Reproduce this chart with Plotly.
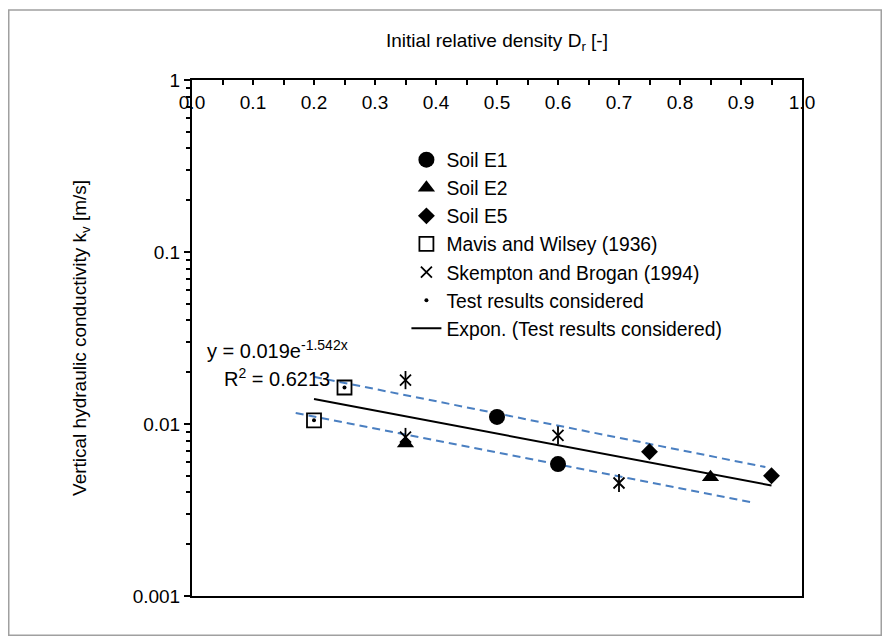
import plotly.graph_objects as go

# ---- data ----
e1_x = [0.5, 0.6]
e1_y = [0.0110, 0.00585]
e2_x = [0.35, 0.85]
e2_y = [0.0077, 0.0049]
e5_x = [0.75, 0.95]
e5_y = [0.0069, 0.0050]
mavis_x = [0.2, 0.25]
mavis_y = [0.0105, 0.0163]
skempton_x = [0.35, 0.35, 0.6, 0.7]
skempton_y = [0.0180, 0.0084, 0.0086, 0.00454]
considered_x = [0.2, 0.25, 0.35, 0.5, 0.6, 0.85, 0.75, 0.95]
considered_y = [0.0105, 0.0163, 0.0077, 0.0110, 0.00585, 0.0049, 0.0069, 0.0050]
trend_x = [0.2, 0.95]
trend_y = [0.01396, 0.00439]
upper_x = [0.2, 0.94]
upper_y = [0.0188, 0.00562]
lower_x = [0.17, 0.915]
lower_y = [0.0116, 0.00352]

x_ticks = [0.0, 0.1, 0.2, 0.3, 0.4, 0.5, 0.6, 0.7, 0.8, 0.9, 1.0]
x_ticktext = ["0.0", "0.1", "0.2", "0.3", "0.4", "0.5", "0.6", "0.7", "0.8", "0.9", "1.0"]
x_minor = [0.05, 0.15, 0.25, 0.35, 0.45, 0.55, 0.65, 0.75, 0.85, 0.95]
y_ticks = [0.001, 0.01, 0.1, 1]
y_ticktext = ["0.001", "0.01", "0.1", "1"]
y_minor = [m * 10 ** e for e in (-3, -2, -1) for m in range(2, 10)]

FONT = "Liberation Sans, Arial, sans-serif"
BLUE = "#4a7fc1"

fig = go.Figure()

# band lines (not in legend)
fig.add_trace(go.Scatter(x=upper_x, y=upper_y, mode="lines", showlegend=False,
                         line=dict(color=BLUE, width=2, dash="8px,5px")))
fig.add_trace(go.Scatter(x=lower_x, y=lower_y, mode="lines", showlegend=False,
                         line=dict(color=BLUE, width=2, dash="8px,5px")))

fig.add_trace(go.Scatter(x=e1_x, y=e1_y, mode="markers", name="Soil E1",
                         marker=dict(symbol="circle", size=16, color="black")))
fig.add_trace(go.Scatter(x=e2_x, y=e2_y, mode="markers", name="Soil E2",
                         marker=dict(symbol="triangle-up", size=15, color="black")))
fig.add_trace(go.Scatter(x=e5_x, y=e5_y, mode="markers", name="Soil E5",
                         marker=dict(symbol="diamond", size=13, color="black")))
fig.add_trace(go.Scatter(x=mavis_x, y=mavis_y, mode="markers", name="Mavis and Wilsey (1936)",
                         marker=dict(symbol="square-open", size=14, color="black",
                                     line=dict(width=1.8, color="black"))))
fig.add_trace(go.Scatter(x=skempton_x, y=skempton_y, mode="markers",
                         name="Skempton and Brogan (1994)",
                         marker=dict(symbol="x-thin-open", size=11, color="black",
                                     line=dict(width=1.8, color="black"))))
fig.add_trace(go.Scatter(x=skempton_x, y=skempton_y, mode="markers", showlegend=False,
                         marker=dict(symbol="line-ns-open", size=13, color="black",
                                     line=dict(width=1.8, color="black"))))
fig.add_trace(go.Scatter(x=considered_x, y=considered_y, mode="markers",
                         name="Test results considered",
                         marker=dict(symbol="circle", size=4, color="black")))
fig.add_trace(go.Scatter(x=trend_x, y=trend_y, mode="lines",
                         name="Expon. (Test results considered)",
                         line=dict(color="black", width=2)))

fig.update_xaxes(
    side="top", range=[0, 1], tickvals=x_ticks, ticktext=x_ticktext,
    ticks="inside", ticklen=5, tickwidth=1.5, tickcolor="black",
    minor=dict(tickvals=x_minor, ticks="inside", ticklen=5, tickwidth=1.5, tickcolor="black"),
    ticklabelposition="inside", ticklabelstandoff=12, ticklabeloverflow="allow",
    showline=True, linecolor="black", linewidth=2, mirror=True,
    showgrid=False, zeroline=False,
    tickfont=dict(size=19, color="black", family=FONT),
)
fig.update_yaxes(
    type="log", range=[-3, 0], tickvals=y_ticks, ticktext=y_ticktext,
    ticks="outside", ticklen=6, tickwidth=1.5, tickcolor="black",
    minor=dict(tickvals=y_minor, ticks="outside", ticklen=4, tickwidth=1.5, tickcolor="black"),
    showline=True, linecolor="black", linewidth=2, mirror=True,
    showgrid=False, zeroline=False,
    tickfont=dict(size=19, color="black", family=FONT),
)

fig.update_layout(
    width=874, height=628,
    margin=dict(l=184, r=80, t=72, b=40),
    paper_bgcolor="white", plot_bgcolor="white",
    font=dict(family=FONT, size=19, color="black"),
    legend=dict(x=0.3515, y=0.8825, xanchor="left", yanchor="top",
                font=dict(size=19.3, color="black", family=FONT),
                bgcolor="rgba(0,0,0,0)", traceorder="normal"),
    shapes=[dict(type="rect", xref="paper", yref="paper",
                 x0=-0.3004, x1=1.1299, y0=-0.0761, y1=1.1357,
                 line=dict(color="#a0a0a0", width=1.5))],
    annotations=[
        dict(text="Initial relative density D<sub>r</sub> [-]", xref="paper", yref="paper",
             x=0.5, y=1.0736, xanchor="center", yanchor="middle", showarrow=False,
             font=dict(size=19, family=FONT, color="black")),
        dict(text="Vertical hydraulic conductivity k<sub>v</sub> [m/s]", xref="paper", yref="paper",
             x=-0.182, y=0.5, xanchor="center", yanchor="middle", textangle=-90, showarrow=False,
             font=dict(size=19, family=FONT, color="black")),
        dict(text="y = 0.019e<sup>-1.542x</sup>", xref="paper", yref="paper",
             x=0.021, y=0.477, xanchor="left", yanchor="middle", showarrow=False,
             font=dict(size=20, family=FONT, color="black")),
        dict(text="R<sup>2</sup> = 0.6213", xref="paper", yref="paper",
             x=0.049, y=0.424, xanchor="left", yanchor="middle", showarrow=False,
             font=dict(size=20, family=FONT, color="black")),
    ],
)

fig.write_html("out.html")
